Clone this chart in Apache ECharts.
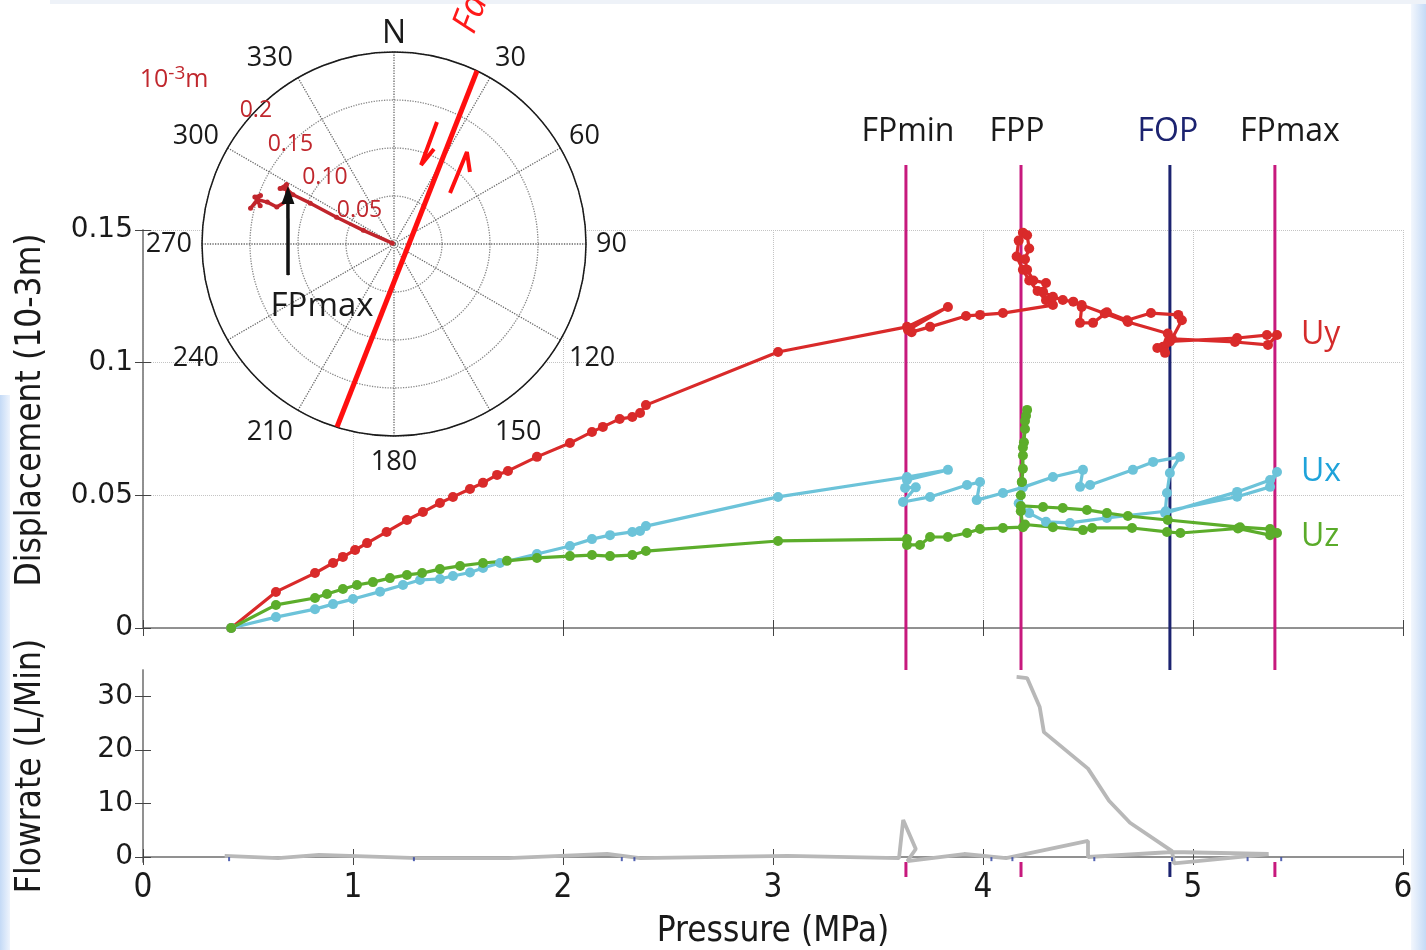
<!DOCTYPE html>
<html>
<head>
<meta charset="utf-8">
<script src="https://cdn.jsdelivr.net/npm/echarts@6/dist/echarts.min.js"></script>
<style>
  html, body { margin: 0; padding: 0; background: #fff; }
  #chart { width: 1426px; height: 950px; }
</style>
</head>
<body>
<div id="chart"></div>
<script>
// ---- axis ticks ----
const pressureTicks = [0, 1, 2, 3, 4, 5, 6];
const dispTickLabels = { 0: '0', 0.05: '0.05', 0.1: '0.1', 0.15: '0.15' };
const flowTicks = [0, 10, 20, 30];

// ---- displacement components vs. injection pressure [MPa, 10^-3 m] ----
const uy = [
  [0.42,0],[0.633,0.0136],[0.819,0.0207],[0.905,0.0245],[0.952,0.0268],[1.01,0.0294],[1.067,0.032],
  [1.16,0.0362],[1.257,0.0407],[1.333,0.0437],[1.414,0.0471],[1.476,0.0494],[1.557,0.0524],[1.619,0.0547],
  [1.686,0.0577],[1.738,0.0592],[1.876,0.0645],[2.033,0.0697],[2.138,0.0739],[2.19,0.0758],[2.27,0.0788],
  [2.33,0.0795],[2.367,0.081],[2.395,0.084],[3.024,0.104],[3.638,0.1135],[3.833,0.121],[3.643,0.1123],
  [3.66,0.1115],[3.748,0.1135],[3.919,0.1176],[3.986,0.118],[4.095,0.1187],[4.333,0.1217],
  [4.3,0.1235],[4.26,0.127],[4.22,0.131],[4.19,0.135],[4.16,0.14],[4.17,0.146],[4.19,0.149],[4.21,0.148],
  [4.22,0.143],[4.2,0.139],[4.21,0.135],[4.24,0.131],[4.3,0.13],[4.286,0.1267],[4.333,0.1248],
  [4.38,0.1236],[4.43,0.123],[4.47,0.1217],[4.58,0.1185],[4.69,0.1153],[4.88,0.111],[4.857,0.106],
  [4.83,0.1055],[4.867,0.1037],[4.89,0.108],[5.21,0.1093],[5.352,0.1104],[5.4,0.1104],[5.357,0.1067],
  [5.2,0.1078],[4.9,0.109],[4.947,0.116],[4.93,0.118],[4.8,0.1187],[4.686,0.116],[4.59,0.119],
  [4.524,0.115],[4.462,0.115],[4.47,0.121]
];
const ux = [
  [0.42,0],[0.633,0.0041],[0.819,0.0071],[0.905,0.009],[1.0,0.0109],[1.129,0.0137],[1.238,0.0162],
  [1.319,0.0181],[1.414,0.0185],[1.476,0.0196],[1.557,0.0209],[1.619,0.0226],[1.7,0.0245],[1.876,0.0279],
  [2.033,0.0309],[2.138,0.0335],[2.224,0.035],[2.33,0.0362],[2.367,0.0366],[2.395,0.0384],[3.024,0.0494],
  [3.638,0.0569],[3.833,0.0596],[3.638,0.0558],[3.629,0.0528],[3.68,0.053],[3.619,0.0475],[3.748,0.0494],
  [3.924,0.0539],[3.986,0.055],[3.97,0.0482],[4.095,0.0509],[4.19,0.053],[4.333,0.0569],[4.476,0.0596],
  [4.462,0.0532],[4.51,0.0539],[4.714,0.0596],[4.81,0.0626],[4.938,0.0645],[4.89,0.0584],[4.876,0.0509],
  [4.867,0.0433],[5.21,0.0513],[5.367,0.0558],[5.4,0.0588],[5.367,0.0532],[5.21,0.0495],[4.87,0.044],
  [4.59,0.0415],[4.414,0.0396],[4.3,0.04],[4.22,0.0433],[4.17,0.047]
];
const uz = [
  [0.42,0],[0.633,0.0087],[0.819,0.0113],[0.876,0.0128],[0.952,0.0147],[1.019,0.0162],[1.095,0.0173],
  [1.176,0.0188],[1.257,0.02],[1.329,0.0207],[1.414,0.0222],[1.51,0.0234],[1.619,0.0245],[1.733,0.0253],
  [1.876,0.0264],[2.033,0.0271],[2.138,0.0275],[2.224,0.0271],[2.33,0.0275],[2.395,0.029],[3.024,0.0328],
  [3.638,0.0335],[3.638,0.0313],[3.7,0.0313],[3.748,0.0343],[3.833,0.0343],[3.924,0.0358],[3.986,0.0373],
  [4.095,0.0377],[4.19,0.038],[4.18,0.044],[4.18,0.05],[4.185,0.055],[4.19,0.06],[4.19,0.065],[4.195,0.07],
  [4.2,0.075],[4.205,0.08],[4.21,0.0822],[4.2,0.078],[4.19,0.068],[4.185,0.055],[4.18,0.046],[4.286,0.0456],
  [4.38,0.0452],[4.495,0.0445],[4.59,0.0433],[4.69,0.0422],[4.88,0.0407],[5.224,0.038],[5.367,0.0373],
  [5.4,0.0358],[5.367,0.035],[5.214,0.0375],[4.94,0.0358],[4.876,0.0362],[4.71,0.0377],[4.52,0.0377],
  [4.476,0.0369],[4.333,0.038],[4.2,0.039]
];

// ---- flow rate vs. pressure [MPa, L/min] ----
const flow = [
  [0.389,0.2],[0.643,-0.2],[0.838,0.4],[1.31,-0.2],[1.74,-0.2],[2.21,0.6],[2.367,-0.2],[3.07,0.2],
  [3.6,-0.2],[3.62,6.9],[3.68,1.5],[3.64,-0.75],[3.91,0.56],[4.11,-0.2],[4.5,3.0],[4.5,0],[4.9,0.94],
  [5.36,0.56],[4.91,-1.2],[4.9,1.1],[4.7,6.4],[4.6,10.5],[4.5,16.5],[4.29,23.3],[4.27,28],[4.21,33.4],[4.16,33.6]
];
const flowLowReadings = [
  [0.41,-0.4],[1.29,-0.4],[2.28,-0.4],[2.34,-0.4],[4.04,-0.4],[4.14,-0.4],[4.53,-0.4],[4.9,-0.4],[5.26,-0.4],[5.42,-0.4]
];

// ---- characteristic pressures ----
const markerNames = ['FPmin', 'FPP', 'FOP', 'FPmax'];
const markerPressures = [3.633, 4.181, 4.89, 5.39];

// ---- horizontal displacement trace (polar: [radius 10^-3 m, azimuth deg]) ----
const polarPath = [
  [0.002,295],[0.035,294],[0.066,295],[0.097,296],[0.117,296],[0.125,297],[0.132,296],[0.128,299],
  [0.12,292],[0.128,287.5],[0.139,288.3],[0.149,288],[0.154,284],[0.148,290],[0.153,288.7],[0.145,286]
];
const ringLabels = { 0.05: '0.05', 0.1: '0.10', 0.15: '0.15', 0.2: '0.2' };
const faultTrace = [[0.211,25.4],[0.1997,197.3]];
const slipLeft = [[0.1348,19.4],[0.087,18.9],[0.1074,22.8]];
const slipRight = [[0.0789,47.7],[0.1223,38.4],[0.109,46.5]];
const fpmaxArrow = [[0.115,253.7],[0.1217,294.8]];

const RED = '#d92a2a', CYAN = '#6cc3d9', GREEN = '#5cad2b';
const MAGENTA = '#c7197d', NAVY = '#1c2370';
const labelFont = "'Open Sans', 'Noto Sans', sans-serif";
const narrowFont = "'Liberation Sans Narrow', 'DejaVu Sans Condensed', 'Open Sans', sans-serif";
const tickFont = "'DejaVu Sans', Verdana, sans-serif";

const chart = echarts.init(document.getElementById('chart'), null, { renderer: 'canvas' });

function dispSeries(name, data, color, labelColor, endPoint) {
  return {
    name, type: 'line', xAxisIndex: 0, yAxisIndex: 0, data,
    symbol: 'circle', symbolSize: 10, showSymbol: true,
    lineStyle: { color, width: 3.2 }, itemStyle: { color },
    z: 5, animation: false,
    markPoint: {
      symbol: 'circle', symbolSize: 0, animation: false,
      data: [{ coord: endPoint }],
      label: { show: true, formatter: name, position: 'right', distance: 24,
               color: labelColor, fontSize: 32, fontFamily: labelFont }
    }
  };
}

// vertical reference lines spanning both panels, labelled above the upper panel
const markerLabelShift = { FPmin: 2, FPP: -4, FOP: -2, FPmax: 15 };
const markerSeries = markerNames.map((nm, i) => ({
  type: 'line', xAxisIndex: 4, yAxisIndex: 4, z: 0, silent: true, animation: false,
  symbol: 'none',
  lineStyle: { color: nm === 'FOP' ? NAVY : MAGENTA, width: 3 },
  data: [[markerPressures[i], 0], [markerPressures[i], 1]],
  markPoint: {
    symbol: 'circle', symbolSize: 0, animation: false,
    data: [{ coord: [markerPressures[i], 1] }],
    label: { show: true, position: 'top', distance: 17, formatter: nm, offset: [markerLabelShift[nm], 0],
             color: nm === 'FOP' ? NAVY : '#1a1a1a', fontSize: 32, fontFamily: labelFont }
  }
}));

// compass labels: style picked by azimuth so the ring of numbers sits evenly around the dial
function compassLabel(v) {
  if (v === 360) return '';
  if (v === 0) return '{n|N}';
  if (v === 30 || v === 330) return '{u1|' + v + '}';
  if (v === 60 || v === 300) return '{u2|' + v + '}';
  if (v === 180) return '{d|' + v + '}';
  return '{m|' + v + '}';
}
const compassRich = {
  n: { fontSize: 32, fontFamily: labelFont, color: '#1a1a1a', lineHeight: 16 },
  u1: { fontSize: 27, fontFamily: labelFont, color: '#1a1a1a', lineHeight: 21 },
  u2: { fontSize: 27, fontFamily: labelFont, color: '#1a1a1a', lineHeight: 13 },
  d: { fontSize: 27, fontFamily: labelFont, color: '#1a1a1a', lineHeight: 33 },
  m: { fontSize: 27, fontFamily: labelFont, color: '#1a1a1a' }
};

const option = {
  backgroundColor: '#ffffff',
  animation: false,
  graphic: [
    { type: 'rect', z: -10, shape: { x: 1411, y: 0, width: 15, height: 950 },
      style: { fill: new echarts.graphic.LinearGradient(0, 0, 1, 0, [
        { offset: 0, color: '#f3f7fd' }, { offset: 1, color: '#c4daf6' }]) } },
    { type: 'rect', z: -10, shape: { x: 0, y: 395, width: 10, height: 555 },
      style: { fill: new echarts.graphic.LinearGradient(0, 0, 1, 0, [
        { offset: 0, color: '#c4daf6' }, { offset: 1, color: '#eef4fd' }]) } },
    { type: 'rect', z: -10, shape: { x: 50, y: 0, width: 1376, height: 4 },
      style: { fill: '#eef2f8' } },
    { type: 'text', z: 20, x: 481, y: 38, rotation: 68.5 * Math.PI / 180,
      style: { text: 'Fault', fill: '#ff1a1a', font: "italic 36px 'Open Sans', sans-serif",
               textAlign: 'left', textVerticalAlign: 'bottom' } }
  ],
  grid: [
    { left: 143, top: 230, width: 1260, height: 398, outerBoundsMode: 'none' },
    { left: 143, top: 670, width: 1260, height: 192, outerBoundsMode: 'none',
      show: true, backgroundColor: '#ffffff', borderWidth: 0, z: 1 },
    { left: 143, top: 165, width: 1260, height: 712, outerBoundsMode: 'none' }
  ],
  xAxis: [
    { gridIndex: 0, type: 'value', min: 0, max: 6, interval: 1, position: 'bottom',
      axisLine: { lineStyle: { color: '#8a8a8a', width: 1.5 } },
      axisTick: { inside: true, length: 8, lineStyle: { color: '#444' } },
      axisLabel: { show: false },
      splitLine: { show: true, lineStyle: { type: 'dotted', color: '#c4c4c4', width: 1 } } },
    { gridIndex: 0, type: 'value', min: 0, max: 6, interval: 1, position: 'top',
      axisLine: { lineStyle: { color: '#8a8a8a', width: 1.5 } },
      axisTick: { inside: true, length: 8, lineStyle: { color: '#444' } },
      axisLabel: { show: false }, splitLine: { show: false } },
    { gridIndex: 1, type: 'value', min: 0, max: 6, interval: 1, position: 'bottom', z: 3,
      axisLine: { lineStyle: { color: '#8a8a8a', width: 1.5 } },
      axisTick: { inside: true, length: 8, lineStyle: { color: '#444' } },
      axisLabel: { show: true, margin: 10, color: '#1a1a1a', fontSize: 33, fontFamily: narrowFont,
                   formatter: v => pressureTicks.includes(v) ? String(v) : '' },
      splitLine: { show: false },
      name: 'Pressure (MPa)', nameLocation: 'middle', nameGap: 52, nameMoveOverlap: false,
      nameTextStyle: { color: '#1a1a1a', fontSize: 35, fontFamily: narrowFont } },
    { gridIndex: 1, type: 'value', min: 0, max: 6, interval: 1, position: 'top', z: 3,
      axisLine: { lineStyle: { color: '#8a8a8a', width: 1.5 } },
      axisTick: { inside: true, length: 8, lineStyle: { color: '#444' } },
      axisLabel: { show: false }, splitLine: { show: false } },
    { gridIndex: 2, type: 'value', min: 0, max: 6, show: false }
  ],
  yAxis: [
    { gridIndex: 0, type: 'value', min: 0, max: 0.15, interval: 0.05, position: 'left',
      axisLine: { show: true, lineStyle: { color: '#8a8a8a', width: 1.5 } },
      axisTick: { show: true, inside: true, length: 8, lineStyle: { color: '#444' } },
      axisLabel: { margin: 10, color: '#1a1a1a', fontSize: 28, fontFamily: tickFont,
                   formatter: v => dispTickLabels[Math.round(v * 100) / 100] ?? '' },
      splitLine: { show: true, lineStyle: { type: 'dotted', color: '#c4c4c4', width: 1 } },
      name: 'Displacement (10-3m)', nameLocation: 'middle', nameRotate: 90, nameGap: 95,
      nameMoveOverlap: false,
      nameTextStyle: { color: '#1a1a1a', fontSize: 35, fontFamily: narrowFont, padding: [0, 0, 0, 38] } },
    { gridIndex: 0, type: 'value', min: 0, max: 0.15, interval: 0.05, position: 'right',
      axisLine: { show: true, lineStyle: { color: '#8a8a8a', width: 1.5 } },
      axisTick: { show: true, inside: true, length: 8, lineStyle: { color: '#444' } },
      axisLabel: { show: false }, splitLine: { show: false } },
    { gridIndex: 1, type: 'value', min: -0.93, max: 34.9, position: 'left', z: 3,
      axisLine: { show: true, lineStyle: { color: '#8a8a8a', width: 1.5 } },
      axisTick: { show: true, inside: true, length: 8, customValues: flowTicks, lineStyle: { color: '#444' } },
      axisLabel: { margin: 10, color: '#1a1a1a', fontSize: 28, fontFamily: tickFont, customValues: flowTicks },
      splitLine: { show: false },
      name: 'Flowrate (L/Min)', nameLocation: 'middle', nameRotate: 90, nameGap: 95,
      nameMoveOverlap: false,
      nameTextStyle: { color: '#1a1a1a', fontSize: 35, fontFamily: narrowFont } },
    { gridIndex: 1, type: 'value', min: -0.93, max: 34.9, position: 'right', z: 3,
      axisLine: { show: true, lineStyle: { color: '#8a8a8a', width: 1.5 } },
      axisTick: { show: true, inside: true, length: 8, customValues: flowTicks, lineStyle: { color: '#444' } },
      axisLabel: { show: false }, splitLine: { show: false } },
    { gridIndex: 2, type: 'value', min: 0, max: 1, show: false }
  ],
  polar: [
    { center: [394, 244], radius: 192 },
    { center: [394, 244], radius: 192 }
  ],
  angleAxis: [
    { polarIndex: 0, type: 'value', min: 0, max: 360, interval: 30, startAngle: 90, clockwise: true, z: 5,
      axisLine: { show: true, lineStyle: { color: '#1a1a1a', width: 1.5 } },
      axisTick: { show: false },
      axisLabel: { show: true, margin: 10, formatter: compassLabel, rich: compassRich },
      splitLine: { show: true, lineStyle: { type: 'dotted', color: '#666', width: 1.3 } } },
    // white dial face behind the grid of the compass
    { polarIndex: 1, type: 'value', min: 0, max: 360, interval: 90, startAngle: 136, z: 3,
      axisLine: { show: false }, axisTick: { show: false }, axisLabel: { show: false },
      splitLine: { show: false },
      splitArea: { show: true, areaStyle: { color: ['#ffffff'] } } }
  ],
  radiusAxis: [
    { polarIndex: 0, type: 'value', min: 0, max: 0.2, interval: 0.05, z: 5,
      axisLine: { show: false }, axisTick: { show: false }, axisLabel: { show: false },
      splitLine: { show: true, lineStyle: { type: 'dotted', color: '#888', width: 1.3 } } },
    { polarIndex: 1, type: 'value', min: 0, max: 0.2, interval: 0.05, z: 7,
      axisLine: { show: false }, axisTick: { show: false }, splitLine: { show: false },
      axisLabel: { show: true, margin: 0, align: 'center', verticalAlign: 'middle',
                   color: '#c0272d', fontSize: 23, fontFamily: labelFont,
                   formatter: v => ringLabels[Math.round(v * 100) / 100] ?? '' },
      name: '10{sup|-3}m', nameLocation: 'end', nameGap: 66,
      nameTextStyle: { color: '#c0272d', fontSize: 25, fontFamily: labelFont, padding: [30, 0, 0, 52],
                       rich: { sup: { fontSize: 19, color: '#c0272d', fontFamily: labelFont, verticalAlign: 'top', padding: [0, 0, 12, 0] } } } }
  ],
  series: [
    ...markerSeries,
    dispSeries('Uy', uy, RED, '#d42b2b', [5.4, 0.1104]),
    dispSeries('Ux', ux, CYAN, '#1fa3da', [5.4, 0.0588]),
    dispSeries('Uz', uz, GREEN, '#5aab2a', [5.4, 0.0345]),
    { type: 'line', xAxisIndex: 2, yAxisIndex: 2, data: flow, z: 4, clip: false,
      symbol: 'none', lineStyle: { color: '#b8b8b8', width: 3.8 } },
    { type: 'scatter', xAxisIndex: 2, yAxisIndex: 2, data: flowLowReadings, z: 4,
      symbol: 'rect', symbolSize: [2, 4], itemStyle: { color: '#2b3fa0' } },
    { type: 'line', coordinateSystem: 'polar', polarIndex: 0, data: polarPath, z: 10, clip: false,
      symbol: 'circle', symbolSize: 5, showSymbol: true,
      lineStyle: { color: '#c1252c', width: 3.5 }, itemStyle: { color: '#c1252c' } },
    { type: 'line', coordinateSystem: 'polar', polarIndex: 0, data: faultTrace, z: 11, clip: false,
      symbol: 'none', lineStyle: { color: '#ff0f0f', width: 5 } },
    { type: 'line', coordinateSystem: 'polar', polarIndex: 0, data: slipLeft, z: 11, clip: false,
      symbol: 'none', lineStyle: { color: '#ff0f0f', width: 4 } },
    { type: 'line', coordinateSystem: 'polar', polarIndex: 0, data: slipRight, z: 11, clip: false,
      symbol: 'none', lineStyle: { color: '#ff0f0f', width: 4 } },
    { type: 'line', coordinateSystem: 'polar', polarIndex: 0, z: 11, clip: false,
      lineStyle: { color: '#111', width: 3.5 }, itemStyle: { color: '#111' },
      data: [
        { value: fpmaxArrow[0], symbol: 'circle', symbolSize: 1,
          label: { show: true, position: 'bottom', distance: 15, offset: [34, 0], formatter: 'FPmax',
                   color: '#1a1a1a', fontSize: 33, fontFamily: labelFont } },
        { value: fpmaxArrow[1], symbol: 'triangle', symbolSize: [13, 18] }
      ] }
  ]
};

chart.setOption(option);
</script>
</body>
</html>
